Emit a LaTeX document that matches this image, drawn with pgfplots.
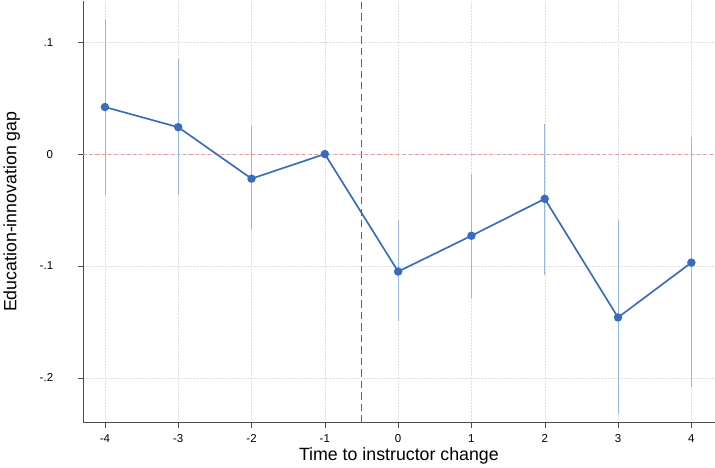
\documentclass[border=0pt]{standalone}
\usepackage{pgfplots}
\pgfplotsset{compat=1.18}
\usepackage{fontspec}
\setmainfont{Liberation Sans}
\definecolor{line}{RGB}{58,108,190}
\definecolor{ci}{RGB}{150,185,225}
\definecolor{hred}{RGB}{235,150,150}
\definecolor{vred}{RGB}{225,45,35}
\begin{document}
\begin{tikzpicture}
\begin{axis}[
  scale only axis, width=605pt, height=404pt,
  xmin=-4.3, xmax=4.32, ymin=-0.24, ymax=0.137,
  axis lines*=left,
  xtick={-4,...,4}, ytick={-0.2,-0.1,0,0.1},
  yticklabels={-.2,-.1,0,.1},
  /pgf/number format/assume math mode=true,
  tick label style={font=\fontsize{11}{13}\selectfont},
  yticklabel style={xshift=-20pt},
  xticklabel style={yshift=-3pt},
  label style={font=\fontsize{17}{20}\selectfont},
  xlabel={Time to instructor change}, ylabel={Education-innovation gap},
  ylabel style={yshift=12pt},
  xlabel style={yshift=2pt},
  grid=major, grid style={densely dotted, gray!25},
  tick style={black!70}, major tick length=5pt, tick align=outside,
  axis line style={black!70},
  clip=false,
]
\draw[vred, dash pattern=on 7pt off 4pt, line width=1.4pt] (axis cs:-0.5,-0.24) -- (axis cs:-0.5,0.137);
\addplot[hred, dashed] coordinates {(-4.3,0) (4.32,0)};
\addplot[ci, thick] coordinates {(-4,-0.037) (-4,0.121)};
\addplot[ci, thick] coordinates {(-3,-0.037) (-3,0.085)};
\addplot[ci, thick] coordinates {(-2,-0.068) (-2,0.025)};
\addplot[ci, thick] coordinates {(0,-0.149) (0,-0.059)};
\addplot[ci, thick] coordinates {(1,-0.129) (1,-0.018)};
\addplot[ci, thick] coordinates {(2,-0.108) (2,0.027)};
\addplot[ci, thick] coordinates {(3,-0.232) (3,-0.059)};
\addplot[ci, thick] coordinates {(4,-0.208) (4,0.015)};
\addplot[line, line width=1.6pt, mark=*, mark size=3.2pt] coordinates {
(-4,0.042) (-3,0.024) (-2,-0.022) (-1,0) (0,-0.105) (1,-0.073) (2,-0.040) (3,-0.146) (4,-0.097)};
\end{axis}
\end{tikzpicture}
\end{document}
